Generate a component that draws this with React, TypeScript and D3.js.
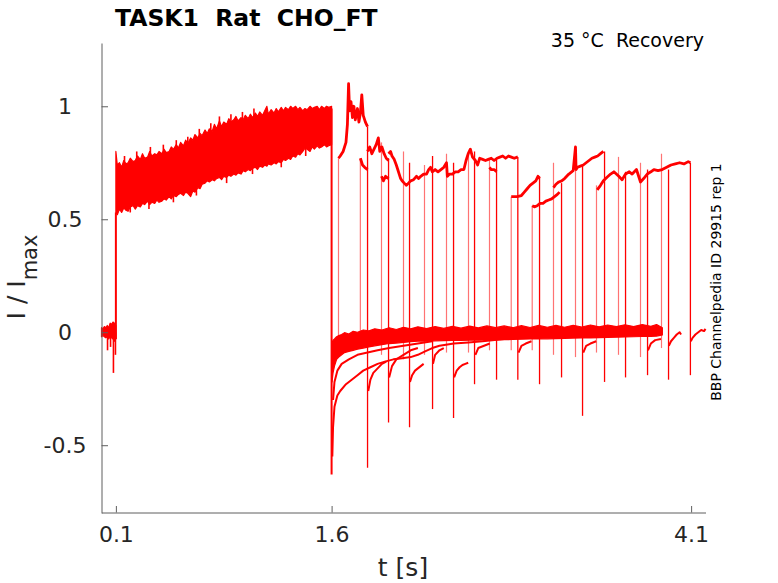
import React, { useRef, useEffect } from "react";
import * as d3 from "d3";

// [t, top, bottom] envelope of the holding current before the first pulse
const preBand: number[][] = [
  [0.0, 0.02, -0.02],
  [0.01, 0.015, -0.015],
  [0.02, 0.025, -0.02],
  [0.03, 0.02, -0.025],
  [0.04, 0.03, -0.02],
  [0.05, 0.02, -0.03],
  [0.06, 0.04, -0.02],
  [0.07, 0.035, -0.025],
  [0.08, 0.045, -0.03],
  [0.09, 0.04, -0.04],
  [0.1, 0.03, -0.03],
];
const preDips: number[][] = [
  [0.042, -0.08],
  [0.063, -0.065],
  [0.083, -0.18],
  [0.097, -0.1],
];

// [t, top, bottom] of the overlapping sweeps during the first pulse
const pulse1Band: number[][] = [
  [0.1, 0.8, 0.53], [0.11, 0.74, 0.52], [0.125, 0.75, 0.545], [0.14, 0.73, 0.53],
  [0.155, 0.76, 0.55], [0.17, 0.745, 0.54], [0.185, 0.75, 0.535], [0.2, 0.77, 0.555],
  [0.22, 0.755, 0.56], [0.235, 0.76, 0.545], [0.25, 0.78, 0.56], [0.27, 0.765, 0.555],
  [0.285, 0.79, 0.57], [0.3, 0.77, 0.565], [0.32, 0.775, 0.58], [0.335, 0.8, 0.565],
  [0.35, 0.78, 0.575], [0.37, 0.79, 0.57], [0.385, 0.785, 0.585], [0.4, 0.8, 0.575],
  [0.42, 0.79, 0.58], [0.435, 0.81, 0.59], [0.45, 0.795, 0.585], [0.47, 0.8, 0.6],
  [0.485, 0.82, 0.59], [0.5, 0.81, 0.605], [0.52, 0.83, 0.6], [0.535, 0.815, 0.61],
  [0.55, 0.84, 0.615], [0.57, 0.825, 0.605], [0.585, 0.85, 0.62], [0.6, 0.835, 0.615],
  [0.62, 0.86, 0.6], [0.635, 0.85, 0.625], [0.65, 0.875, 0.62], [0.67, 0.86, 0.64],
  [0.685, 0.88, 0.635], [0.7, 0.87, 0.655], [0.72, 0.895, 0.66], [0.735, 0.88, 0.67],
  [0.75, 0.9, 0.665], [0.77, 0.89, 0.675], [0.785, 0.92, 0.67], [0.8, 0.9, 0.68],
  [0.82, 0.935, 0.685], [0.835, 0.91, 0.675], [0.85, 0.93, 0.69], [0.87, 0.92, 0.685],
  [0.885, 0.945, 0.695], [0.9, 0.93, 0.69], [0.92, 0.94, 0.7], [0.935, 0.955, 0.695],
  [0.95, 0.935, 0.705], [0.97, 0.95, 0.7], [0.985, 0.94, 0.715], [1.0, 0.96, 0.71],
  [1.02, 0.945, 0.72], [1.035, 0.965, 0.715], [1.05, 0.95, 0.725], [1.07, 0.97, 0.73],
  [1.085, 0.955, 0.72], [1.1, 0.975, 0.735], [1.12, 0.96, 0.73], [1.135, 0.98, 0.74],
  [1.15, 1.0, 0.735], [1.16, 0.965, 0.745], [1.18, 0.985, 0.74], [1.2, 0.97, 0.75],
  [1.215, 0.99, 0.745], [1.23, 0.975, 0.755], [1.25, 0.995, 0.75], [1.265, 0.98, 0.765],
  [1.28, 0.995, 0.76], [1.3, 0.985, 0.77], [1.315, 1.0, 0.765], [1.33, 0.99, 0.78],
  [1.35, 1.0, 0.775], [1.365, 0.985, 0.79], [1.38, 0.995, 0.785], [1.4, 0.98, 0.8],
  [1.415, 0.99, 0.815], [1.43, 0.985, 0.81], [1.45, 1.0, 0.8], [1.465, 0.99, 0.82],
  [1.48, 0.995, 0.81], [1.5, 1.0, 0.825], [1.515, 0.985, 0.815], [1.53, 1.0, 0.82],
  [1.55, 0.99, 0.83], [1.565, 1.0, 0.82], [1.58, 0.995, 0.825], [1.6, 1.0, 0.83],
];
// noise spikes sticking out of that band, [t, tip]
const pulse1Peaks: number[][] = [
  [0.16, 0.78], [0.245, 0.8], [0.34, 0.82], [0.43, 0.83], [0.52, 0.85], [0.6, 0.865],
  [0.68, 0.9], [0.76, 0.925], [0.82, 0.955], [0.9, 0.965], [0.98, 0.975], [1.06, 0.99],
];
const pulse1Troughs: number[][] = [
  [0.2, 0.53], [0.33, 0.545], [0.5, 0.575], [0.66, 0.605], [0.87, 0.66], [1.05, 0.7],
  [1.25, 0.73], [1.42, 0.78],
];

// second (test) pulse pieces, [t, value]
const pulse2Segments: number[][][] = [
  [
    [1.648, 0.77], [1.66, 0.78], [1.68, 0.8], [1.7, 0.84], [1.71, 0.92], [1.718, 1.1],
    [1.725, 0.98], [1.735, 1.02], [1.745, 0.95], [1.755, 1.0], [1.765, 0.94],
    [1.78, 0.99], [1.79, 0.93], [1.8, 0.97], [1.81, 1.05], [1.82, 0.96],
    [1.835, 0.93], [1.85, 0.91],
  ],
  [[1.8, 0.77], [1.815, 0.74], [1.83, 0.73], [1.85, 0.72]],
  [
    [1.85, 0.8], [1.865, 0.82], [1.88, 0.79], [1.895, 0.81], [1.91, 0.83],
    [1.925, 0.86], [1.935, 0.8], [1.95, 0.82], [1.965, 0.79], [1.98, 0.77], [1.996, 0.76],
  ],
  [[1.947, 0.69], [1.96, 0.67], [1.975, 0.69], [1.996, 0.68]],
  [
    [1.996, 0.79], [2.01, 0.8], [2.02, 0.78], [2.035, 0.765], [2.05, 0.74], [2.06, 0.72],
    [2.07, 0.7], [2.08, 0.68], [2.09, 0.67], [2.105, 0.66], [2.12, 0.65], [2.135, 0.66],
    [2.15, 0.67], [2.17, 0.675], [2.19, 0.69], [2.205, 0.68], [2.22, 0.69], [2.24, 0.7],
    [2.26, 0.7], [2.275, 0.72], [2.288, 0.73], [2.3, 0.71], [2.32, 0.72], [2.34, 0.71],
    [2.36, 0.72], [2.38, 0.73], [2.399, 0.75], [2.405, 0.69], [2.42, 0.7], [2.44, 0.7],
    [2.46, 0.71], [2.48, 0.71], [2.5, 0.72], [2.52, 0.72], [2.535, 0.76], [2.55, 0.79],
    [2.565, 0.81], [2.58, 0.775], [2.6, 0.76], [2.615, 0.74], [2.63, 0.77], [2.65, 0.765],
    [2.67, 0.76], [2.69, 0.765], [2.71, 0.77], [2.73, 0.76], [2.75, 0.77], [2.77, 0.775],
    [2.79, 0.78], [2.81, 0.77], [2.83, 0.78], [2.85, 0.775], [2.87, 0.77], [2.895, 0.776],
  ],
  [[2.698, 0.73], [2.71, 0.72], [2.73, 0.72], [2.747, 0.71]],
  [
    [2.849, 0.6], [2.87, 0.6], [2.89, 0.6], [2.92, 0.605], [2.94, 0.62], [2.96, 0.635],
    [2.98, 0.65], [3.0, 0.66], [3.02, 0.67], [3.035, 0.69], [3.046, 0.68],
  ],
  [
    [2.995, 0.56], [3.01, 0.555], [3.03, 0.56], [3.05, 0.57], [3.07, 0.57], [3.09, 0.58],
    [3.11, 0.585], [3.13, 0.59], [3.15, 0.6], [3.17, 0.61], [3.185, 0.62],
  ],
  [
    [3.143, 0.64], [3.16, 0.655], [3.18, 0.665], [3.2, 0.67], [3.22, 0.68], [3.25, 0.7],
    [3.28, 0.715], [3.296, 0.82], [3.3, 0.72], [3.31, 0.73], [3.33, 0.735], [3.35, 0.74],
    [3.37, 0.75], [3.39, 0.76], [3.41, 0.77], [3.43, 0.775], [3.45, 0.78], [3.47, 0.79],
    [3.49, 0.8],
  ],
  [
    [3.447, 0.63], [3.47, 0.65], [3.49, 0.67], [3.517, 0.687], [3.54, 0.7], [3.563, 0.71],
    [3.597, 0.69], [3.62, 0.675], [3.644, 0.7], [3.67, 0.71], [3.69, 0.7], [3.72, 0.72],
    [3.748, 0.665], [3.77, 0.68], [3.795, 0.7], [3.82, 0.71], [3.841, 0.72], [3.87, 0.715],
    [3.899, 0.72], [3.93, 0.73], [3.96, 0.74], [3.99, 0.745], [4.02, 0.75], [4.05, 0.745],
    [4.08, 0.755], [4.095, 0.75],
  ],
];

// [t, top, bottom] of the dense baseline after the conditioning pulse
const lowerBand: number[][] = [
  [1.603, -0.05, -0.22], [1.61, -0.035, -0.18], [1.62, -0.03, -0.15], [1.635, -0.02, -0.12],
  [1.65, -0.015, -0.11], [1.67, -0.01, -0.1], [1.69, -0.002, -0.09], [1.72, -0.008, -0.085],
  [1.75, 0.004, -0.08], [1.78, 0.0, -0.075], [1.82, 0.01, -0.07], [1.86, 0.006, -0.065],
  [1.9, 0.015, -0.06], [1.95, 0.01, -0.055], [2.0, 0.02, -0.05], [2.05, 0.012, -0.048],
  [2.1, 0.022, -0.045], [2.15, 0.015, -0.042], [2.2, 0.024, -0.04], [2.26, 0.016, -0.04],
  [2.32, 0.025, -0.038], [2.38, 0.017, -0.037], [2.44, 0.026, -0.036], [2.5, 0.018, -0.036],
  [2.56, 0.027, -0.035], [2.62, 0.019, -0.035], [2.68, 0.028, -0.034], [2.74, 0.02, -0.034],
  [2.8, 0.028, -0.033], [2.86, 0.02, -0.032], [2.92, 0.029, -0.031], [2.98, 0.021, -0.03],
  [3.04, 0.03, -0.03], [3.1, 0.022, -0.029], [3.16, 0.03, -0.028], [3.22, 0.022, -0.027],
  [3.28, 0.031, -0.026], [3.34, 0.023, -0.025], [3.4, 0.032, -0.025], [3.46, 0.024, -0.024],
  [3.52, 0.032, -0.023], [3.58, 0.025, -0.022], [3.64, 0.033, -0.021], [3.7, 0.025, -0.02],
  [3.76, 0.034, -0.019], [3.82, 0.026, -0.018], [3.86, 0.034, -0.017], [3.9, 0.02, -0.012],
];

// slower sweeps and tails recovering after each test pulse, [t, value]
const lowerTraces: number[][][] = [
  [
    [1.605, -0.55], [1.61, -0.42], [1.62, -0.33], [1.64, -0.28], [1.66, -0.26], [1.7, -0.23],
    [1.74, -0.21], [1.78, -0.19], [1.82, -0.17], [1.87, -0.155], [1.92, -0.14], [1.97, -0.13],
    [2.03, -0.12], [2.09, -0.115], [2.15, -0.11], [2.2, -0.1], [2.25, -0.085], [2.3, -0.07],
    [2.35, -0.06], [2.45, -0.05], [2.55, -0.045], [2.65, -0.04], [2.8, -0.03],
  ],
  [
    [1.61, -0.3], [1.62, -0.22], [1.64, -0.17], [1.67, -0.14], [1.72, -0.12], [1.78, -0.1],
    [1.85, -0.09], [1.92, -0.08], [2.0, -0.07], [2.1, -0.06], [2.2, -0.05], [2.3, -0.04],
  ],
  [[1.855, -0.26], [1.87, -0.21], [1.89, -0.18], [1.92, -0.16], [1.95, -0.14], [1.98, -0.13]],
  [[2.0, -0.2], [2.02, -0.15], [2.05, -0.12], [2.1, -0.1], [2.15, -0.08], [2.2, -0.07]],
  [[2.145, -0.22], [2.16, -0.19], [2.18, -0.17], [2.2, -0.16], [2.22, -0.15], [2.24, -0.14]],
  [[2.305, -0.14], [2.32, -0.1], [2.35, -0.08], [2.38, -0.07]],
  [[2.452, -0.2], [2.47, -0.17], [2.49, -0.155], [2.51, -0.145], [2.53, -0.14], [2.55, -0.135]],
  [[2.6, -0.1], [2.62, -0.07], [2.66, -0.06], [2.7, -0.05]],
  [[2.9, -0.09], [2.92, -0.06], [2.95, -0.05], [2.99, -0.04]],
  [[3.35, -0.09], [3.37, -0.06], [3.4, -0.05], [3.44, -0.04]],
  [[3.8, -0.08], [3.82, -0.05], [3.85, -0.035], [3.89, -0.03]],
  [[3.945, -0.06], [3.96, -0.04], [3.98, -0.025], [4.0, -0.01], [4.02, 0.0], [4.03, -0.01]],
  [
    [4.098, -0.04], [4.11, -0.025], [4.13, -0.01], [4.15, 0.0], [4.17, 0.01], [4.19, 0.005],
    [4.2, 0.015],
  ],
];

// pulse onsets [t, top, bottom]
const onsetLines: number[][] = [
  [0.1, 0.53, -0.03],
  [1.648, 0.77, -0.03], [1.8, 0.77, -0.05], [1.947, 0.84, -0.1], [2.1, 0.8, -0.12],
  [2.246, 0.74, -0.1], [2.399, 0.79, -0.09], [2.552, 0.79, -0.09], [2.698, 0.77, -0.08],
  [2.849, 0.6, -0.08], [2.995, 0.56, -0.08], [3.143, 0.75, -0.1], [3.296, 0.82, -0.11],
  [3.442, 0.65, -0.09], [3.595, 0.776, -0.1], [3.748, 0.75, -0.11], [3.894, 0.79, -0.07],
];

// pulse offsets with their tail spikes [t, top, bottom]
const offsetLines: number[][] = [
  [1.6, 0.99, -0.63],
  [1.85, 0.91, -0.6], [1.996, 0.77, -0.4], [2.142, 0.75, -0.42], [2.302, 0.78, -0.34],
  [2.448, 0.75, -0.38], [2.594, 0.8, -0.23], [2.747, 0.77, -0.21], [2.895, 0.776, -0.21],
  [3.046, 0.69, -0.23], [3.199, 0.66, -0.2], [3.345, 0.74, -0.37], [3.498, 0.8, -0.22],
  [3.644, 0.71, -0.2], [3.797, 0.72, -0.19], [3.943, 0.72, -0.21], [4.095, 0.75, -0.19],
];

const xTicks = [0.1, 1.6, 4.1];
const yTicks = [-0.5, 0, 0.5, 1];

const App: React.FC = () => {
  const svgRef = useRef<SVGSVGElement | null>(null);

  useEffect(() => {
    if (!svgRef.current) return;
    document.body.style.margin = "0";

    const svg = d3.select(svgRef.current);
    svg.selectAll("*").remove();

    const font = "DejaVu Sans, sans-serif";
    const red = "#ff0000";
    const axisColor = "#5f5f5f";
    const textColor = "#262626";

    const x = d3.scaleLinear().domain([0, 4.2]).range([101.5, 705.5]);
    const y = d3.scaleLinear().domain([-0.8, 1.28]).range([513, 43]);

    const band = d3
      .area<number[]>()
      .x((d) => x(d[0]))
      .y0((d) => y(d[2]))
      .y1((d) => y(d[1]));
    const line = d3
      .line<number[]>()
      .x((d) => x(d[0]))
      .y((d) => y(d[1]));

    const plot = svg.append("g");

    [preBand, pulse1Band, lowerBand].forEach((b) => {
      plot
        .append("path")
        .attr("d", band(b))
        .attr("fill", red)
        .attr("stroke", red)
        .attr("stroke-width", 1.2)
        .attr("stroke-linejoin", "round");
    });

    // short vertical noise marks: [t, from, to]
    const ticksOf = (rows: number[][], off: number) =>
      rows.map((d) => [d[0], d[1], d[1] + off]);
    const noise = [
      ...ticksOf(pulse1Peaks, -0.05),
      ...ticksOf(pulse1Troughs, 0.05),
      ...preDips.map((d) => [d[0], d[1], 0]),
    ];
    plot
      .append("g")
      .selectAll("line")
      .data(noise)
      .join("line")
      .attr("x1", (d) => x(d[0]))
      .attr("x2", (d) => x(d[0]))
      .attr("y1", (d) => y(d[1]))
      .attr("y2", (d) => y(d[2]))
      .attr("stroke", red)
      .attr("stroke-width", 1.6);

    plot
      .append("g")
      .selectAll("path")
      .data(lowerTraces)
      .join("path")
      .attr("d", (d) => line(d))
      .attr("fill", "none")
      .attr("stroke", red)
      .attr("stroke-width", 2)
      .attr("stroke-linejoin", "round");

    plot
      .append("g")
      .selectAll("line")
      .data(onsetLines)
      .join("line")
      .attr("x1", (d) => x(d[0]))
      .attr("x2", (d) => x(d[0]))
      .attr("y1", (d) => y(d[1]))
      .attr("y2", (d) => y(d[2]))
      .attr("stroke", red)
      .attr("stroke-opacity", (d, i) => (i === 0 ? 1 : 0.55))
      .attr("stroke-width", (d, i) => (i === 0 ? 2 : 1.2));

    plot
      .append("g")
      .selectAll("line")
      .data(offsetLines)
      .join("line")
      .attr("x1", (d) => x(d[0]))
      .attr("x2", (d) => x(d[0]))
      .attr("y1", (d) => y(d[1]))
      .attr("y2", (d) => y(d[2]))
      .attr("stroke", red)
      .attr("stroke-width", (d, i) => (i === 0 ? 2 : 1.3));

    plot
      .append("g")
      .selectAll("path")
      .data(pulse2Segments)
      .join("path")
      .attr("d", (d) => line(d))
      .attr("fill", "none")
      .attr("stroke", red)
      .attr("stroke-width", 2.8)
      .attr("stroke-linejoin", "round");

    // axes, MATLAB style ticks pointing inwards
    const xAxis = svg
      .append("g")
      .attr("transform", `translate(0,${y.range()[0] - 0.5})`)
      .call(
        d3
          .axisBottom(x)
          .tickValues(xTicks)
          .tickFormat((d) => String(d))
          .tickSizeInner(-6.5)
          .tickSizeOuter(0)
          .tickPadding(14)
      );
    const yAxis = svg
      .append("g")
      .attr("transform", `translate(${x.range()[0]},0)`)
      .call(
        d3
          .axisLeft(y)
          .tickValues(yTicks)
          .tickFormat((d) => String(d))
          .tickSizeInner(-6.5)
          .tickSizeOuter(0)
          .tickPadding(0)
      );
    [xAxis, yAxis].forEach((a) => {
      a.selectAll(".domain, .tick line").attr("stroke", axisColor);
      a.selectAll("text")
        .attr("fill", textColor)
        .attr("font-family", font)
        .attr("font-size", 22);
    });
    yAxis.selectAll("text").attr("text-anchor", "middle").attr("x", -36.5);

    svg
      .append("text")
      .attr("x", 403)
      .attr("y", 576)
      .attr("text-anchor", "middle")
      .attr("font-family", font)
      .attr("font-size", 25)
      .attr("fill", textColor)
      .text("t [s]");

    const yLabel = svg
      .append("text")
      .attr("transform", "translate(25,277) rotate(-90)")
      .attr("text-anchor", "middle")
      .attr("font-family", font)
      .attr("font-size", 25)
      .attr("fill", textColor);
    yLabel.append("tspan").style("white-space", "pre").text("I / I");
    yLabel.append("tspan").attr("font-size", 21).attr("dy", 12).text("max");

    svg
      .append("text")
      .attr("x", 115)
      .attr("y", 26)
      .attr("font-family", font)
      .attr("font-weight", "bold")
      .attr("font-size", 23.5)
      .attr("fill", "#000")
      .style("white-space", "pre")
      .text("TASK1  Rat  CHO_FT");

    svg
      .append("text")
      .attr("x", 704)
      .attr("y", 47)
      .attr("text-anchor", "end")
      .attr("font-family", font)
      .attr("font-size", 19)
      .attr("fill", "#000")
      .style("white-space", "pre")
      .text("35 °C  Recovery");

    svg
      .append("text")
      .attr("transform", "translate(721,282) rotate(-90)")
      .attr("text-anchor", "middle")
      .attr("font-family", font)
      .attr("font-size", 14)
      .attr("fill", "#000")
      .text("BBP Channelpedia ID 29915 rep 1");
  }, []);

  return (
    <svg
      ref={svgRef}
      width={778}
      height={583}
      style={{ display: "block", background: "#fff" }}
    />
  );
};

export default App;
